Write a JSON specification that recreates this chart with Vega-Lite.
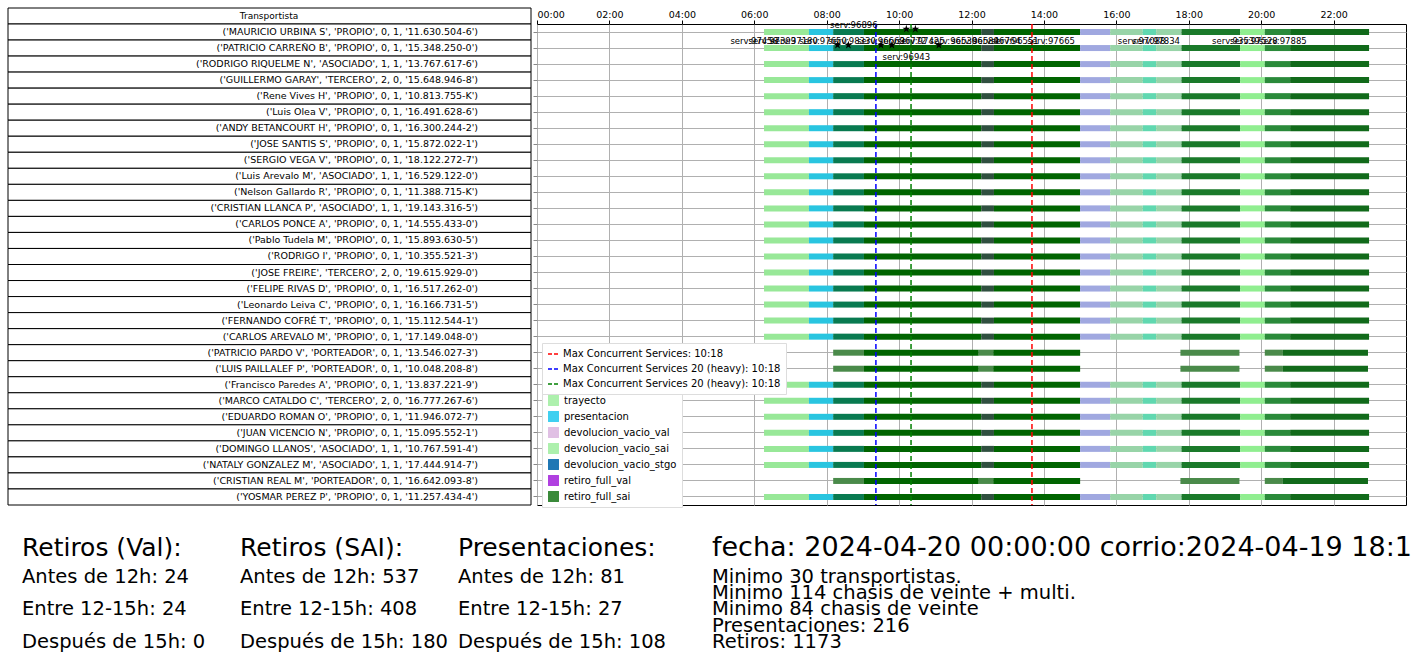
{
  "$schema": "https://vega.github.io/schema/vega-lite/v6.json",
  "padding": {"left": 7, "top": 7, "right": 0, "bottom": 0},
  "background": "white",
  "config": {"font": "DejaVu Sans", "concat": {"spacing": 0}},
  "datasets": {
    "drivers": [
      {"id": 1, "label": "('MAURICIO URBINA S', 'PROPIO', 0, 1, '11.630.504-6')"},
      {"id": 2, "label": "('PATRICIO CARREÑO B', 'PROPIO', 0, 1, '15.348.250-0')"},
      {"id": 3, "label": "('RODRIGO RIQUELME N', 'ASOCIADO', 1, 1, '13.767.617-6')"},
      {"id": 4, "label": "('GUILLERMO GARAY', 'TERCERO', 2, 0, '15.648.946-8')"},
      {"id": 5, "label": "('Rene Vives H', 'PROPIO', 0, 1, '10.813.755-K')"},
      {"id": 6, "label": "('Luis Olea V', 'PROPIO', 0, 1, '16.491.628-6')"},
      {"id": 7, "label": "('ANDY BETANCOURT H', 'PROPIO', 0, 1, '16.300.244-2')"},
      {"id": 8, "label": "('JOSE SANTIS S', 'PROPIO', 0, 1, '15.872.022-1')"},
      {"id": 9, "label": "('SERGIO VEGA V', 'PROPIO', 0, 1, '18.122.272-7')"},
      {"id": 10, "label": "('Luis Arevalo M', 'ASOCIADO', 1, 1, '16.529.122-0')"},
      {"id": 11, "label": "('Nelson Gallardo R', 'PROPIO', 0, 1, '11.388.715-K')"},
      {"id": 12, "label": "('CRISTIAN LLANCA P', 'ASOCIADO', 1, 1, '19.143.316-5')"},
      {"id": 13, "label": "('CARLOS PONCE A', 'PROPIO', 0, 1, '14.555.433-0')"},
      {"id": 14, "label": "('Pablo Tudela M', 'PROPIO', 0, 1, '15.893.630-5')"},
      {"id": 15, "label": "('RODRIGO  I', 'PROPIO', 0, 1, '10.355.521-3')"},
      {"id": 16, "label": "('JOSE FREIRE', 'TERCERO', 2, 0, '19.615.929-0')"},
      {"id": 17, "label": "('FELIPE RIVAS D', 'PROPIO', 0, 1, '16.517.262-0')"},
      {"id": 18, "label": "('Leonardo Leiva C', 'PROPIO', 0, 1, '16.166.731-5')"},
      {"id": 19, "label": "('FERNANDO COFRÉ T', 'PROPIO', 0, 1, '15.112.544-1')"},
      {"id": 20, "label": "('CARLOS AREVALO M', 'PROPIO', 0, 1, '17.149.048-0')"},
      {"id": 21, "label": "('PATRICIO PARDO V', 'PORTEADOR', 0, 1, '13.546.027-3')"},
      {"id": 22, "label": "('LUIS PAILLALEF P', 'PORTEADOR', 0, 1, '10.048.208-8')"},
      {"id": 23, "label": "('Francisco Paredes A', 'PROPIO', 0, 1, '13.837.221-9')"},
      {"id": 24, "label": "('MARCO CATALDO C', 'TERCERO', 2, 0, '16.777.267-6')"},
      {"id": 25, "label": "('EDUARDO ROMAN O', 'PROPIO', 0, 1, '11.946.072-7')"},
      {"id": 26, "label": "('JUAN VICENCIO N', 'PROPIO', 0, 1, '15.095.552-1')"},
      {"id": 27, "label": "('DOMINGO LLANOS', 'ASOCIADO', 1, 1, '10.767.591-4')"},
      {"id": 28, "label": "('NATALY GONZALEZ M', 'ASOCIADO', 1, 1, '17.444.914-7')"},
      {"id": 29, "label": "('CRISTIAN REAL M', 'PORTEADOR', 0, 1, '16.642.093-8')"},
      {"id": 30, "label": "('YOSMAR PEREZ P', 'PROPIO', 0, 1, '11.257.434-4')"}
    ],
    "segments": [
      {"start": 6.27, "end": 7.51, "seg": "s_ruta", "ids": [1,2,3,4,5,6,7,8,9,10,11,12,13,14,15,16,17,18,19,20,23,24,25,26,27,28,30]},
      {"start": 7.51, "end": 8.18, "seg": "s_pres", "ids": [1,2,3,4,5,6,7,8,9,10,11,12,13,14,15,16,17,18,19,20,23,24,25,26,27,28,30]},
      {"start": 8.18, "end": 9.03, "seg": "s_teal", "ids": [1,2,3,4,5,6,7,8,9,10,11,12,13,14,15,16,17,18,19,20,23,24,25,26,27,28,30]},
      {"start": 9.03, "end": 12.27, "seg": "s_dark", "ids": [1,2,3,4,5,6,7,8,9,10,11,12,13,14,15,16,17,18,19,20,23,24,25,26,27,28,30]},
      {"start": 12.27, "end": 12.62, "seg": "s_grey", "ids": [1,2,3,4,5,6,7,8,9,10,11,12,13,14,15,16,17,18,19,20,23,24,25,26,27,28,30]},
      {"start": 12.62, "end": 15.0, "seg": "s_dark", "ids": [1,2,3,4,5,6,7,8,9,10,11,12,13,14,15,16,17,18,19,20,23,24,25,26,27,28,30]},
      {"start": 15.0, "end": 15.83, "seg": "s_lav", "ids": [1,2,3,4,5,6,7,8,9,10,11,12,13,14,15,16,17,18,19,20,23,24,25,26,27,28,30]},
      {"start": 15.83, "end": 16.73, "seg": "s_pale", "ids": [1,2,3,4,5,6,7,8,9,10,11,12,13,14,15,16,17,18,19,20,23,24,25,26,27,28,30]},
      {"start": 16.73, "end": 17.1, "seg": "s_aqua", "ids": [1,2,3,4,5,6,7,8,9,10,11,12,13,14,15,16,17,18,19,20,23,24,25,26,27,28,30]},
      {"start": 17.1, "end": 17.8, "seg": "s_pale", "ids": [1,2,3,4,5,6,7,8,9,10,11,12,13,14,15,16,17,18,19,20,23,24,25,26,27,28,30]},
      {"start": 17.8, "end": 19.42, "seg": "s_mid", "ids": [1,2,3,4,5,6,7,8,9,10,11,12,13,14,15,16,17,18,19,20,23,24,25,26,27,28,30]},
      {"start": 19.42, "end": 20.1, "seg": "s_light", "ids": [1,2,3,4,5,6,7,8,9,10,11,12,13,14,15,16,17,18,19,20,23,24,25,26,27,28,30]},
      {"start": 20.1, "end": 20.8, "seg": "s_mid2", "ids": [1,2,3,4,5,6,7,8,9,10,11,12,13,14,15,16,17,18,19,20,23,24,25,26,27,28,30]},
      {"start": 20.8, "end": 22.98, "seg": "s_deep", "ids": [1,2,3,4,5,6,7,8,9,10,11,12,13,14,15,16,17,18,19,20,23,24,25,26,27,28,30]},
      {"start": 8.18, "end": 9.03, "seg": "s_port", "ids": [21,22,29]},
      {"start": 9.03, "end": 12.2, "seg": "s_dark", "ids": [21,22,29]},
      {"start": 12.2, "end": 12.6, "seg": "s_port", "ids": [21,22,29]},
      {"start": 12.6, "end": 15.0, "seg": "s_dark", "ids": [21,22,29]},
      {"start": 17.77, "end": 19.4, "seg": "s_port", "ids": [21,22,29]},
      {"start": 20.1, "end": 20.6, "seg": "s_port", "ids": [21,22,29]},
      {"start": 20.6, "end": 22.95, "seg": "s_deep", "ids": [21,22,29]}
    ],
    "labels": [
      {"id": 1, "t": 8.75, "text": "serv:96896"},
      {"id": 2, "t": 6.0, "text": "serv:97458"},
      {"id": 2, "t": 6.5, "text": "serv:97393"},
      {"id": 2, "t": 7.1, "text": "serv:97180"},
      {"id": 2, "t": 7.9, "text": "serv:97650"},
      {"id": 2, "t": 8.7, "text": "serv:98330"},
      {"id": 2, "t": 9.5, "text": "serv:96663"},
      {"id": 2, "t": 10.1, "text": "serv:96772"},
      {"id": 2, "t": 10.6, "text": "serv:97425"},
      {"id": 2, "t": 11.5, "text": "serv:96530"},
      {"id": 2, "t": 12.1, "text": "serv:96584"},
      {"id": 2, "t": 12.7, "text": "serv:96764"},
      {"id": 2, "t": 13.2, "text": "serv:96551"},
      {"id": 2, "t": 14.2, "text": "serv:97665"},
      {"id": 2, "t": 16.7, "text": "serv:97088"},
      {"id": 2, "t": 17.1, "text": "serv:97834"},
      {"id": 2, "t": 19.3, "text": "serv:93539"},
      {"id": 2, "t": 19.8, "text": "serv:97528"},
      {"id": 2, "t": 20.6, "text": "serv:97885"},
      {"id": 3, "t": 10.2, "text": "serv:96943"}
    ],
    "stars": [
      {"id": 1, "t": 10.2}, {"id": 1, "t": 10.45},
      {"id": 2, "t": 8.3}, {"id": 2, "t": 8.6}, {"id": 2, "t": 9.5}, {"id": 2, "t": 9.8}, {"id": 2, "t": 11.1}
    ],
    "maxlines": [
      {"name": "Max Concurrent Services: 10:18", "t": 13.67},
      {"name": "Max Concurrent Services 20 (heavy): 10:18", "t": 9.36},
      {"name": "Max Concurrent Services 20 (heavy): 10:18 ", "t": 10.33}
    ]
  },
  "vconcat": [
    {
      "hconcat": [
        {
          "width": 523, "height": 481,
          "view": {"stroke": null},
          "layer": [
            {
              "data": {"values": [{"h": "Transportista"}]},
              "layer": [
                {"mark": {"type": "rect", "fill": "white", "stroke": "black", "strokeWidth": 1},
                 "encoding": {"x": {"value": 0}, "x2": {"value": "width"}, "y": {"value": -16}, "y2": {"value": 0}}},
                {"mark": {"type": "text", "fontSize": 9, "align": "center"},
                 "encoding": {"text": {"field": "h"}, "x": {"value": 261}, "y": {"value": -8}}}
              ]
            },
            {
              "data": {"name": "drivers"},
              "encoding": {"y": {"field": "id", "type": "ordinal", "axis": null, "scale": {"paddingInner": 0, "paddingOuter": 0}}},
              "layer": [
                {"mark": {"type": "rect", "fill": "white", "stroke": "black", "strokeWidth": 1},
                 "encoding": {"x": {"value": 0}, "x2": {"value": "width"}}},
                {"mark": {"type": "text", "fontSize": 9.5, "align": "right"},
                 "encoding": {"text": {"field": "label"}, "x": {"value": 470}}}
              ]
            }
          ]
        },
        {
          "width": 869, "height": 481,
          "view": {"stroke": "black"},
          "encoding": {
            "y": {"field": "id", "type": "ordinal", "scale": {"domain": [1,2,3,4,5,6,7,8,9,10,11,12,13,14,15,16,17,18,19,20,21,22,23,24,25,26,27,28,29,30], "paddingInner": 0, "paddingOuter": 0},
                  "axis": {"labels": false, "ticks": true, "tickSize": 4, "domain": false, "grid": true, "gridColor": "#b0b0b0", "title": null, "minExtent": 0, "maxExtent": 0}}
          },
          "layer": [
            {
              "data": {"name": "segments"},
              "transform": [{"flatten": ["ids"], "as": ["id"]}],
              "mark": {"type": "bar", "height": 6},
              "encoding": {
                "x": {"field": "start", "type": "quantitative", "scale": {"domain": [0, 24], "nice": false},
                      "axis": {"orient": "top", "values": [0,1,2,3,4,5,6,7,8,9,10,11,12,13,14,15,16,17,18,19,20,21,22,23], "labelExpr": "(datum.value < 10 ? '0' : '') + datum.value + ':00'", "labelOverlap": false, "labelFontSize": 9.5, "labelColor": "black", "tickSize": 4, "tickColor": "black", "labelPadding": 1, "domain": false, "grid": true, "gridColor": "#b0b0b0", "title": null, "minExtent": 16, "maxExtent": 16}},
                "x2": {"field": "end"},
                "color": {"field": "seg", "type": "nominal",
                  "scale": {
                    "domain": ["trayecto", "presentacion", "devolucion_vacio_val", "devolucion_vacio_sai", "devolucion_vacio_stgo", "retiro_full_val", "retiro_full_sai", "s_ruta", "s_pres", "s_teal", "s_dark", "s_grey", "s_lav", "s_pale", "s_aqua", "s_mid", "s_light", "s_mid2", "s_deep", "s_port"],
                    "range": ["#adf0ad", "#40d0f0", "#e0c0e4", "#adf0ad", "#1f77b4", "#b040e0", "#3a8a3a", "#98e898", "#29c5e0", "#087a50", "#006400", "#2f4f3f", "#a0a8e0", "#98d4a8", "#60d8b0", "#1a7a2a", "#90ee90", "#2a8a3a", "#116a1a", "#4a8a4a"]
                  },
                  "legend": {"values": ["trayecto", "presentacion", "devolucion_vacio_val", "devolucion_vacio_sai", "devolucion_vacio_stgo", "retiro_full_val", "retiro_full_sai"],
                    "title": null, "orient": "none", "legendX": 5, "legendY": 365, "symbolType": "square", "symbolSize": 120, "labelFontSize": 10, "rowPadding": 4,
                    "fillColor": "white", "strokeColor": "#dddddd", "padding": 5, "labelLimit": 300}
                }
              }
            },
            {
              "data": {"name": "maxlines"},
              "mark": {"type": "rule", "strokeDash": [5, 3], "strokeWidth": 1.5},
              "encoding": {
                "x": {"field": "t", "type": "quantitative"},
                "y": {"value": 0}, "y2": {"value": 481},
                "stroke": {"field": "name", "type": "nominal",
                  "scale": {"domain": ["Max Concurrent Services: 10:18", "Max Concurrent Services 20 (heavy): 10:18", "Max Concurrent Services 20 (heavy): 10:18 "], "range": ["red", "blue", "green"]},
                  "legend": {"title": null, "orient": "none", "legendX": 5, "legendY": 319, "symbolType": "stroke", "symbolDash": [4, 2], "symbolStrokeWidth": 1.5, "labelFontSize": 10, "rowPadding": 4,
                    "fillColor": "white", "strokeColor": "#dddddd", "padding": 5, "labelLimit": 300}}
              }
            },
            {
              "data": {"name": "labels"},
              "mark": {"type": "text", "fontSize": 8.5, "baseline": "bottom", "dy": -2, "color": "black"},
              "encoding": {"x": {"field": "t", "type": "quantitative"}, "text": {"field": "text"}}
            },
            {
              "data": {"name": "stars"},
              "mark": {"type": "point", "shape": "M0,-1L0.2245,-0.309L0.951,-0.309L0.363,0.118L0.588,0.809L0,0.382L-0.588,0.809L-0.363,0.118L-0.951,-0.309L-0.2245,-0.309Z", "filled": true, "color": "black", "size": 70, "opacity": 1, "yOffset": -3},
              "encoding": {"x": {"field": "t", "type": "quantitative"}}
            }
          ],
          "resolve": {"scale": {"color": "independent", "stroke": "independent"}}
        }
      ]
    },
    {
      "hconcat": [
        {
          "width": 232, "height": 125, "view": {"stroke": null},
          "data": {"values": [
            {"kind": "head", "slot": 0.9, "text": "Retiros (Val):"},
            {"kind": "line", "slot": 2.64, "text": "Antes de 12h: 24"},
            {"kind": "line", "slot": 4.56, "text": "Entre 12-15h: 24"},
            {"kind": "line", "slot": 6.54, "text": "Después de 15h: 0"}
          ]},
          "encoding": {"y": {"field": "slot", "type": "quantitative", "scale": {"domain": [0, 7.5], "reverse": true}, "axis": null}, "text": {"field": "text"}},
          "layer": [
            {"transform": [{"filter": "datum.kind == 'head'"}], "mark": {"type": "text", "align": "left", "fontSize": 25, "dx": 14}, "encoding": {"x": {"value": 0}}},
            {"transform": [{"filter": "datum.kind == 'line'"}], "mark": {"type": "text", "align": "left", "fontSize": 19.5, "dx": 14}, "encoding": {"x": {"value": 0}}}
          ]
        },
        {
          "width": 218, "height": 125, "view": {"stroke": null},
          "data": {"values": [
            {"kind": "head", "slot": 0.9, "text": "Retiros (SAI):"},
            {"kind": "line", "slot": 2.64, "text": "Antes de 12h: 537"},
            {"kind": "line", "slot": 4.56, "text": "Entre 12-15h: 408"},
            {"kind": "line", "slot": 6.54, "text": "Después de 15h: 180"}
          ]},
          "encoding": {"y": {"field": "slot", "type": "quantitative", "scale": {"domain": [0, 7.5], "reverse": true}, "axis": null}, "text": {"field": "text"}},
          "layer": [
            {"transform": [{"filter": "datum.kind == 'head'"}], "mark": {"type": "text", "align": "left", "fontSize": 25}, "encoding": {"x": {"value": 0}}},
            {"transform": [{"filter": "datum.kind == 'line'"}], "mark": {"type": "text", "align": "left", "fontSize": 19.5}, "encoding": {"x": {"value": 0}}}
          ]
        },
        {
          "width": 254, "height": 125, "view": {"stroke": null},
          "data": {"values": [
            {"kind": "head", "slot": 0.9, "text": "Presentaciones:"},
            {"kind": "line", "slot": 2.64, "text": "Antes de 12h: 81"},
            {"kind": "line", "slot": 4.56, "text": "Entre 12-15h: 27"},
            {"kind": "line", "slot": 6.54, "text": "Después de 15h: 108"}
          ]},
          "encoding": {"y": {"field": "slot", "type": "quantitative", "scale": {"domain": [0, 7.5], "reverse": true}, "axis": null}, "text": {"field": "text"}},
          "layer": [
            {"transform": [{"filter": "datum.kind == 'head'"}], "mark": {"type": "text", "align": "left", "fontSize": 25}, "encoding": {"x": {"value": 0}}},
            {"transform": [{"filter": "datum.kind == 'line'"}], "mark": {"type": "text", "align": "left", "fontSize": 19.5}, "encoding": {"x": {"value": 0}}}
          ]
        },
        {
          "width": 710, "height": 125, "view": {"stroke": null},
          "data": {"values": [
            {"kind": "head", "slot": 0.9, "text": "fecha: 2024-04-20 00:00:00  corrio:2024-04-19 18:1"},
            {"kind": "line", "slot": 2.64, "text": "Minimo 30 transportistas."},
            {"kind": "line", "slot": 3.6, "text": "Minimo 114 chasis de veinte + multi."},
            {"kind": "line", "slot": 4.56, "text": "Minimo 84 chasis de veinte"},
            {"kind": "line", "slot": 5.58, "text": "Presentaciones: 216"},
            {"kind": "line", "slot": 6.54, "text": "Retiros: 1173"}
          ]},
          "encoding": {"y": {"field": "slot", "type": "quantitative", "scale": {"domain": [0, 7.5], "reverse": true}, "axis": null}, "text": {"field": "text"}},
          "layer": [
            {"transform": [{"filter": "datum.kind == 'head'"}], "mark": {"type": "text", "align": "left", "fontSize": 27}, "encoding": {"x": {"value": 0}}},
            {"transform": [{"filter": "datum.kind == 'line'"}], "mark": {"type": "text", "align": "left", "fontSize": 19.5}, "encoding": {"x": {"value": 0}}}
          ]
        }
      ]
    }
  ],
  "spacing": 25
}
